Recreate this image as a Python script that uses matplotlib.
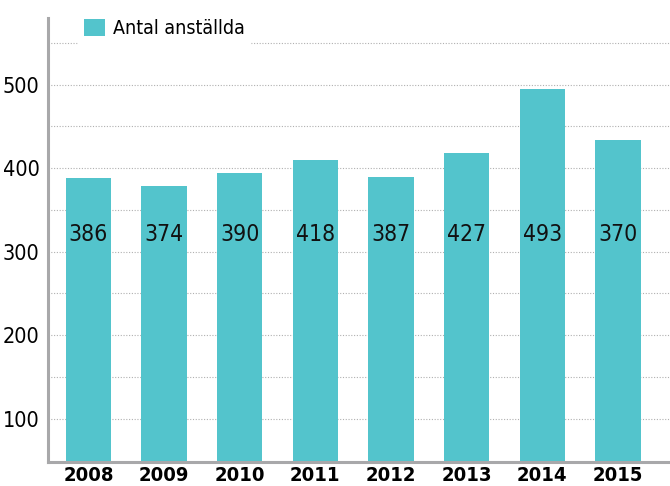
import matplotlib.pyplot as plt
import numpy as np

years = ["2008", "2009", "2010", "2011", "2012", "2013", "2014", "2015"]
# bar heights as drawn in the reference
heights = [388, 379, 394, 410, 390, 418, 495, 434]
# numbers printed inside the bars
labels = ["386", "374", "390", "418", "387", "427", "493", "370"]
yticks = [100, 200, 300, 400, 500]

plt.rcParams['font.family'] = ['DejaVu Sans']
plt.rcParams['font.stretch'] = 'condensed'

fig = plt.figure(figsize=(6.7, 4.86), dpi=100)
ax = fig.add_axes([48 / 670, 1 - 462 / 486, 622 / 670, 444 / 486])

x = np.arange(len(years))
ax.bar(x, heights, width=0.6, color="#53c4cc", zorder=2, label="Antal anställda")

for xi, lab in zip(x, labels):
    ax.text(xi, 321, lab, ha="center", va="center", fontsize=16.5, color="#111111",
            fontstretch="condensed", zorder=3)

ax.set_xlim(-0.535, 7.69)
ax.set_ylim(48, 580)
ax.set_xticks(x)
ax.set_xticklabels(years, fontsize=14.5, fontweight="bold", fontstretch="condensed")
ax.set_yticks(yticks)
ax.set_yticklabels([str(v) for v in yticks], fontsize=15.5, fontstretch="condensed")
ax.set_yticks(np.arange(150, 551, 100), minor=True)
ax.tick_params(axis="both", which="both", length=0)
ax.tick_params(axis="y", pad=6)
ax.tick_params(axis="x", pad=3)
ax.grid(axis="y", which="both", linestyle=(0, (1, 1.5)), color="#b0b0b0", linewidth=0.8, zorder=1)

for side in ["top", "right"]:
    ax.spines[side].set_visible(False)
for side in ["left", "bottom"]:
    ax.spines[side].set_color("#a8a8aa")
    ax.spines[side].set_linewidth(2.2)

leg = ax.legend(loc="upper left", bbox_to_anchor=(0.049, 1.012), frameon=True,
                prop={"size": 14, "stretch": "condensed"},
                handlelength=1.05, handleheight=1.0, handletextpad=0.4, borderpad=0.3,
                borderaxespad=0.0, fancybox=False)
leg.get_frame().set_edgecolor("white")
leg.get_frame().set_facecolor("white")
leg.get_frame().set_alpha(1)

fig.savefig("out.png", dpi=100)
